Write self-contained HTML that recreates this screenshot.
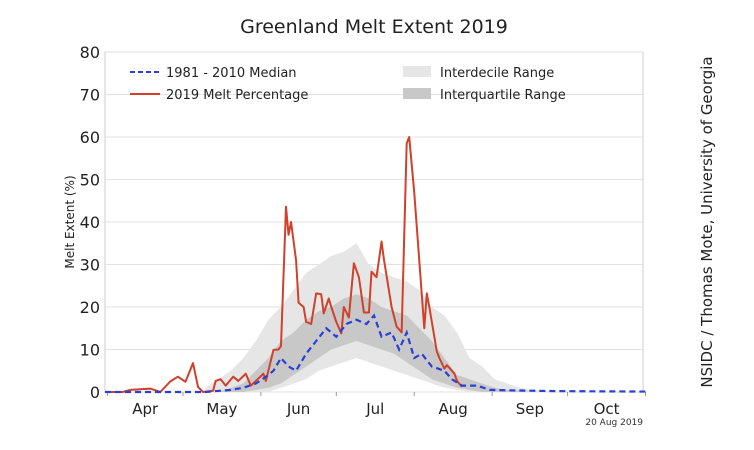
<!DOCTYPE html>
<html><head><meta charset="utf-8"><style>
body{margin:0;background:#fff;width:754px;height:445px;overflow:hidden}
svg{font-family:"DejaVu Sans","Liberation Sans",sans-serif}
</style></head><body>
<svg id="c" width="754" height="445">
<text x="374" y="33" font-size="19" text-anchor="middle" fill="#222">Greenland Melt Extent 2019</text>
<text transform="translate(74,222) rotate(-90)" font-size="12" text-anchor="middle" fill="#222">Melt Extent (%)</text>
<text transform="translate(712,222) rotate(-90)" font-size="15" text-anchor="middle" fill="#222">NSIDC / Thomas Mote, University of Georgia</text>
<text x="643" y="425" font-size="9" text-anchor="end" fill="#333">20 Aug 2019</text>
<g id="plot"></g>
<g>
<line x1="130" y1="72" x2="160" y2="72" stroke="#2a3fd6" stroke-width="2" stroke-dasharray="5,3"/>
<text x="166" y="77" font-size="13" fill="#222">1981 - 2010 Median</text>
<line x1="130" y1="94" x2="160" y2="94" stroke="#d0402a" stroke-width="2"/>
<text x="166" y="99" font-size="13" fill="#222">2019 Melt Percentage</text>
<rect x="403" y="66" width="28" height="11" fill="#e6e6e6"/>
<text x="440" y="77" font-size="13" fill="#222">Interdecile Range</text>
<rect x="403" y="88" width="28" height="11" fill="#c8c8c8"/>
<text x="440" y="99" font-size="13" fill="#222">Interquartile Range</text>
</g>
</svg>
<script>
const redDays=[90,97,100,108,112,116,119,122,125,127,129,133,134,136,138,141,143,146,148,150,153,154,157,159,160,162,163,164,166,167,169,170,172,174,176,177,179,180,182,184,185,187,189,191,193,195,196,198,200,201,204,206,208,210,211,213,215,217,218,219,222,223,225,226,229,230,232];
const redVals=[0,0,0.5,0.8,0,2.5,3.6,2.4,6.8,1.2,0,0.3,2.6,3,1.5,3.6,2.6,4.3,1.5,2.6,4.3,2.6,9.9,10,10.8,43.6,37,40,31,21,20,16.5,16,23.2,23,18.5,22,20,16.5,13.8,20,17.5,30.3,27,18.7,18.7,28.3,27,35.4,31,20,15.4,14,58.5,60,47,31,15,23.2,20,9.5,8,5.5,6.3,4.3,2.6,1.2];
const medDays=[90,130,140,145,150,155,157,160,163,166,170,174,178,182,186,190,194,197,200,204,207,210,213,216,220,225,228,232,238,243,250,270,305];
const medVals=[0,0,0.5,1,2,4,5,8,6,5,9,12,15,13,16,17,16,18,13,14,10,14,8,9,6,5,3,1.5,1.5,0.5,0.4,0.2,0.1];
const bandDays=[130,135,140,145,150,155,160,165,170,175,180,185,190,195,200,205,210,215,220,225,230,235,240,245,250,255,260,270];
const p90=[1,3,5,8,12,17,20,24,28,30,32,33,35,30,28,27,26,24,20,18,14,8,6,3,2,1,0.5,0];
const p10=[0,0,0,0,0,0,1,2,3,5,6,7,8,7,6,5,4,3,2,1,0.5,0,0,0,0,0,0,0];
const p75=[0,0,1,2,5,8,12,14,17,19,20,22,23,22,20,19,18,15,12,8,4,3,2,1,0.5,0.3,0,0];
const p25=[0,0,0,0,0.5,1,2,4,6,8,10,11,12,11,10,9,7,5,3,2,1,0.5,0,0,0,0,0,0];
const yTicks=[0,10,20,30,40,50,60,70,80];
const months=["Apr","May","Jun","Jul","Aug","Sep","Oct"];
const monthStarts=[91,121,152,182,213,244,274,305];

const X0=105,X1=643,Y0=392,Y1=52,D0=90,D1=304;
const xs=d=>X0+(d-D0)*(X1-X0)/(D1-D0);
const ys=v=>Y0-(v/80)*(Y0-Y1);
const NS="http://www.w3.org/2000/svg";
const g=document.getElementById('plot');
function mk(t,a){const e=document.createElementNS(NS,t);for(const k in a)e.setAttribute(k,a[k]);g.appendChild(e);return e;}
// frame
let fr=mk('rect',{x:X0,y:Y1,width:X1-X0,height:Y0-Y1,fill:'none',stroke:'#cfcfcf'});


yTicks.forEach(v=>{
 const l=mk('line',{x1:X0,x2:X1,y1:ys(v),y2:ys(v),stroke:'#e2e2e2'});
 
 
 const t=mk('text',{x:X0-5,y:ys(v)+6,'font-size':16,'text-anchor':'end',fill:'#222'});
 t.textContent=v;
 
 
});
monthStarts.forEach((d,i)=>{
 const tk=mk('line',{x1:xs(d),x2:xs(d),y1:Y0,y2:Y0+4,stroke:'#999'});
 
 
 if(i<months.length){
  const t=mk('text',{x:xs((d+monthStarts[i+1])/2),y:414,'font-size':15,'text-anchor':'middle',fill:'#222'});
  t.textContent=months[i];
  
  
 }
});
function band(up,lo,fill,name){
 let d='M'+bandDays.map((dd,i)=>xs(dd)+','+ys(up[i])).join('L');
 for(let i=bandDays.length-1;i>=0;i--)d+='L'+xs(bandDays[i])+','+ys(lo[i]);
 const p=mk('path',{d:d+'Z',fill:fill});
 
 
}
band(p90,p10,'#e6e6e6','interdecile-band');
band(p75,p25,'#c8c8c8','interquartile-band');
function line(ds,vs,attrs,name){
 const p=mk('path',Object.assign({d:'M'+ds.map((d,i)=>xs(d)+','+ys(vs[i])).join('L'),fill:'none'},attrs));
 
 
}
line(redDays,redVals,{stroke:'#d0402a','stroke-width':2,'stroke-linejoin':'round'},'melt-2019-line');
line(medDays,medVals,{stroke:'#2a3fd6','stroke-width':2.2,'stroke-dasharray':'6,4'},'median-line');
</script>
</body></html>
